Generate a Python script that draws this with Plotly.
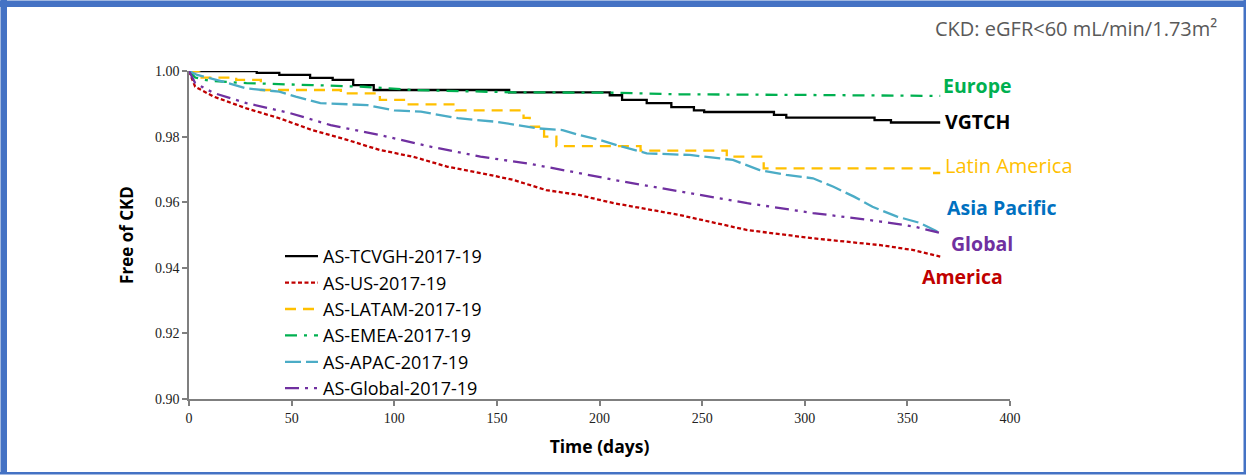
import plotly.graph_objects as go

# ---- data ----
vgtch_days = [0, 33, 44, 59, 70, 80, 90, 156, 205, 211, 223, 235, 246, 251, 285, 291, 334, 342, 366]
vgtch_vals = [1.0, 0.9994, 0.9988, 0.9979, 0.9973, 0.9957, 0.9942, 0.9935, 0.9926, 0.9912, 0.9902, 0.9890, 0.9880, 0.9875, 0.9866, 0.9858, 0.9850, 0.9843, 0.9843]

us_days = [0, 3, 12, 28, 44, 60, 77, 93, 109, 126, 142, 158, 174, 190, 200, 207, 239, 272, 304, 337, 353, 366]
us_vals = [1.0, 0.9952, 0.9922, 0.9886, 0.9856, 0.9820, 0.9790, 0.9759, 0.9739, 0.9708, 0.9689, 0.9668, 0.9637, 0.9622, 0.9607, 0.9597, 0.9561, 0.9515, 0.9490, 0.9469, 0.9454, 0.9434]

latam_days = [0, 5, 23, 35, 74, 93, 106, 130, 161, 163, 166, 173, 179, 220, 262, 280, 362, 366]
latam_vals = [1.0, 0.9980, 0.9973, 0.9942, 0.9932, 0.9912, 0.9898, 0.9880, 0.9872, 0.9857, 0.9830, 0.9800, 0.9771, 0.9757, 0.9739, 0.9703, 0.9689, 0.9689]

emea_days = [0, 3, 10, 28, 60, 85, 109, 158, 205, 239, 300, 366]
emea_vals = [1.0, 0.9980, 0.9970, 0.9963, 0.9957, 0.9952, 0.9942, 0.9935, 0.9934, 0.9929, 0.9927, 0.9924]

apac_days = [0, 4, 17, 28, 44, 52, 64, 87, 100, 113, 131, 150, 160, 170, 182, 190, 200, 210, 223, 244, 265, 278, 291, 304, 314, 324, 333, 345, 356, 366]
apac_vals = [1.0, 0.9988, 0.9967, 0.9947, 0.9937, 0.9922, 0.9902, 0.9896, 0.9880, 0.9876, 0.9856, 0.9845, 0.9835, 0.9825, 0.9820, 0.9805, 0.9790, 0.9771, 0.9749, 0.9744, 0.9729, 0.9698, 0.9683, 0.9673, 0.9647, 0.9617, 0.9586, 0.9556, 0.9537, 0.9506]

global_days = [0, 3, 12, 28, 49, 69, 93, 117, 142, 166, 190, 207, 239, 272, 304, 337, 353, 366]
global_vals = [1.0, 0.9963, 0.9933, 0.9902, 0.9872, 0.9835, 0.9805, 0.9770, 0.9739, 0.9717, 0.9689, 0.9668, 0.9633, 0.9597, 0.9567, 0.9541, 0.9526, 0.9506]

x_ticks = [0, 50, 100, 150, 200, 250, 300, 350, 400]
y_ticks = [0.90, 0.92, 0.94, 0.96, 0.98, 1.00]

region_labels = ["Europe", "VGTCH", "Latin America", "Asia Pacific", "Global", "America"]
region_label_x = [366.5, 367.5, 367.5, 368.5, 370.5, 356]
region_label_y = [0.9957, 0.9845, 0.9713, 0.9585, 0.9473, 0.9372]
region_colors = ["#00B050", "#000000", "#FFC000", "#0070C0", "#7030A0", "#C00000"]
region_bold = [True, True, False, True, True, True]

# ---- figure ----
fig = go.Figure()
series = [
    ("AS-TCVGH-2017-19", vgtch_days, vgtch_vals, "#000000", "solid", "hv"),
    ("AS-US-2017-19", us_days, us_vals, "#C00000", "4px,2.5px", "linear"),
    ("AS-LATAM-2017-19", latam_days, latam_vals, "#FFC000", "11px,7px", "hv"),
    ("AS-EMEA-2017-19", emea_days, emea_vals, "#00B050", "12px,7px,3px,7px", "linear"),
    ("AS-APAC-2017-19", apac_days, apac_vals, "#4BACC6", "16px,5px", "linear"),
    ("AS-Global-2017-19", global_days, global_vals, "#7030A0", "14px,6px,3px,6px,3px,6px", "linear"),
]
for name, xs, ys, col, dash, shape in series:
    fig.add_trace(go.Scatter(x=xs, y=ys, mode="lines", name=name,
                             line=dict(color=col, dash=dash, width=2.3, shape=shape)))

for t, x, y, c, b in zip(region_labels, region_label_x, region_label_y, region_colors, region_bold):
    fig.add_annotation(x=x, y=y, xref="x", yref="y", text=f"<b>{t}</b>" if b else t,
                       showarrow=False, xanchor="left", yanchor="middle",
                       font=dict(family="Open Sans", size=19.5 if b else 20, color=c))

# plot-area geometry in pixels
L, R, T, B = 189, 1010, 71, 399
W, H = 1246, 475
def px(xp):
    return (xp - L) / (R - L)
def py(yp):
    return (B - yp) / (B - T)

fig.add_annotation(x=px(1219), y=py(28), xref="paper", yref="paper",
                   text="CKD: eGFR<60 mL/min/1.73m²", showarrow=False,
                   xanchor="right", yanchor="middle",
                   font=dict(family="Open Sans", size=20, color="#595959"))

# blue frame
frame_col = "#4472C4"
fig.add_shape(type="rect", xref="paper", yref="paper", x0=px(0), x1=px(1246), y0=py(0.5), y1=py(7),
              fillcolor=frame_col, line_width=0, layer="above")
fig.add_shape(type="rect", xref="paper", yref="paper", x0=px(0.5), x1=px(7), y0=py(0), y1=py(474),
              fillcolor=frame_col, line_width=0, layer="above")
fig.add_shape(type="rect", xref="paper", yref="paper", x0=px(1243.5), x1=px(1246), y0=py(0), y1=py(474),
              fillcolor=frame_col, line_width=0, layer="above")
fig.add_shape(type="rect", xref="paper", yref="paper", x0=px(0), x1=px(1246), y0=py(472), y1=py(474.5),
              fillcolor=frame_col, line_width=0, layer="above")

axis_line = "#7F7F7F"
tick_font = dict(family="'Liberation Serif', 'Times New Roman', serif", size=14, color="#222222")
fig.update_layout(
    width=W, height=H,
    margin=dict(l=L, r=W - R, t=T, b=H - B),
    paper_bgcolor="white", plot_bgcolor="white",
    showlegend=True,
    legend=dict(x=px(280), y=py(238), xanchor="left", yanchor="top",
                font=dict(family="Open Sans", size=18, color="#000000"),
                bgcolor="rgba(0,0,0,0)", itemwidth=33, tracegroupgap=0),
    xaxis=dict(range=[0, 400], tickvals=x_ticks, ticktext=[str(v) for v in x_ticks],
               showgrid=False, zeroline=False, showline=True, linecolor=axis_line, linewidth=1.5,
               ticks="outside", ticklen=5, tickcolor=axis_line, tickwidth=1.5,
               tickfont=tick_font,
               title=dict(text="<b>Time (days)</b>", standoff=16,
                          font=dict(family="Open Sans", size=17.5, color="#000000"))),
    yaxis=dict(range=[0.90, 1.00], tickvals=y_ticks, ticktext=[f"{v:.2f}" for v in y_ticks],
               showgrid=False, zeroline=False, showline=True, linecolor=axis_line, linewidth=1.5,
               ticks="outside", ticklen=5, tickcolor=axis_line, tickwidth=1.5,
               tickfont=tick_font,
               title=dict(text="<b>Free of CKD</b>", standoff=17,
                          font=dict(family="Open Sans", size=17, color="#000000"))),
)

fig.write_html("out.html", config={"displayModeBar": False},
               post_script="document.body.style.margin='0px';")
